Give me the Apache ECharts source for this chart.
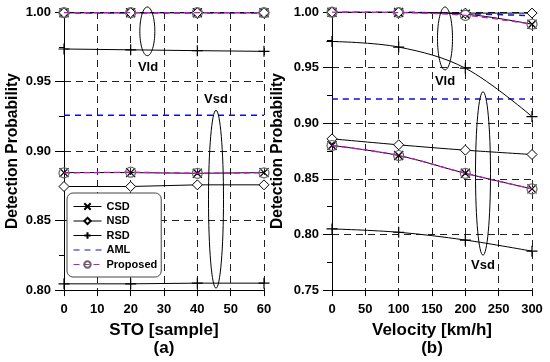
<!DOCTYPE html>
<html><head><meta charset="utf-8">
<script src="https://cdn.jsdelivr.net/npm/echarts@6/dist/echarts.min.js"></script>
<style>html,body{margin:0;padding:0;background:#fff}#c{width:550px;height:362px}</style>
</head><body><div id="c"></div>
<script>
// ---- data ----
var stoTicks = [0, 20, 40, 60];
var velTicks = [0, 100, 200, 300];
// (a) STO
var csdVldA  = [0.9995, 0.9995, 0.9995, 0.9995];
var csdVsdA  = [0.8845, 0.8845, 0.8840, 0.8845];
var nsdVldA  = [0.9995, 0.9995, 0.9995, 0.9995];
var nsdVsdA  = [0.8745, 0.8745, 0.8757, 0.8757];
var rsdVldA  = [0.9734, 0.9728, 0.9722, 0.9717];
var rsdVsdA  = [0.8045, 0.8045, 0.8050, 0.8050];
var amlVldA  = [0.9995, 0.9995, 0.9995, 0.9995];
var amlVsdA  = [0.9257, 0.9257, 0.9257, 0.9257];
var propVldA = [0.9995, 0.9995, 0.9995, 0.9995];
var propVsdA = [0.8843, 0.8848, 0.8840, 0.8843];
// (b) Velocity
var csdVldB  = [0.9998, 0.9995, 0.9980, 0.9890];
var csdVsdB  = [0.8800, 0.8710, 0.8550, 0.8410];
var nsdVldB  = [0.9998, 0.9998, 0.9990, 0.9990];
var nsdVsdB  = [0.8860, 0.8806, 0.8758, 0.8719];
var rsdVldB  = [0.9735, 0.9685, 0.9495, 0.9060];
var rsdVsdB  = [0.8050, 0.8020, 0.7950, 0.7850];
var amlVldB  = [0.9998, 0.9998, 0.9985, 0.9967];
var amlVsdB  = [0.9218, 0.9218, 0.9218, 0.9218];
var propVldB = [0.9998, 0.9995, 0.9970, 0.9890];
var propVsdB = [0.8800, 0.8710, 0.8550, 0.8410];
var legendNames = ['CSD', 'NSD', 'RSD', 'AML', 'Proposed'];
// annotation positions in data units
var annA = [{t:'Vld', x:25, y1:1.0036, y2:0.9686, lx:25.2, ly:0.960},
            {t:'Vsd', x:45.6, y1:0.9293, y2:0.8014, lx:45.6, ly:0.937}];
var annB = [{t:'Vld', x:169.5, y1:1.0045, y2:0.9480, lx:169.5, ly:0.938},
            {t:'Vsd', x:226.5, y1:0.9283, y2:0.7814, lx:226.5, ly:0.7724}];

function pairs(xs, ys){ return xs.map(function(x,i){ return [x, ys[i]]; }); }

var FONT = 'Arial, "Liberation Sans", sans-serif';
var XPATH = 'path://M0,0L10,10M10,0L0,10';
var PPATH = 'path://M5,0L5,10M0,5L10,5';

function styleFor(name){
  if (name === 'CSD') return {symbol: XPATH, symbolSize: 9, lineStyle:{color:'#000', width:1},
      itemStyle:{color:'rgba(0,0,0,0)', borderColor:'#000', borderWidth:1.3}};
  if (name === 'NSD') return {symbol: 'diamond', symbolSize: 10, lineStyle:{color:'#000', width:1},
      itemStyle:{color:'#fff', borderColor:'#000', borderWidth:1}};
  if (name === 'RSD') return {symbol: PPATH, symbolSize: 11, lineStyle:{color:'#000', width:1},
      itemStyle:{color:'rgba(0,0,0,0)', borderColor:'#000', borderWidth:1.2}};
  if (name === 'AML') return {symbol: 'none', lineStyle:{color:'#1010d0', width:1.5, type:[6,5]},
      itemStyle:{color:'#1010d0'}};
  return {symbol: 'circle', symbolSize: 10, lineStyle:{color:'#d010d0', width:1.3, type:[6,4]},
      itemStyle:{color:'rgba(0,0,0,0)', borderColor:'#666', borderWidth:1.2}};
}

var series = [];
function add(name, idx, xs, ys, smooth){
  var s = styleFor(name);
  var o = {name:name, type:'line', xAxisIndex:idx, yAxisIndex:idx, data:pairs(xs, ys),
    smooth: smooth ? 0.35 : false, showSymbol: s.symbol !== 'none', symbol: s.symbol,
    symbolSize: s.symbolSize || 8, lineStyle: s.lineStyle, itemStyle: s.itemStyle,
    emphasis:{disabled:true}, animation:false, z: name === 'Proposed' ? 5 : 3};
  series.push(o);
}
add('AML', 0, stoTicks, amlVldA); add('AML', 0, stoTicks, amlVsdA);
add('CSD', 0, stoTicks, csdVldA); add('CSD', 0, stoTicks, csdVsdA);
add('NSD', 0, stoTicks, nsdVldA); add('NSD', 0, stoTicks, nsdVsdA);
add('RSD', 0, stoTicks, rsdVldA); add('RSD', 0, stoTicks, rsdVsdA);
add('Proposed', 0, stoTicks, propVldA); add('Proposed', 0, stoTicks, propVsdA);
add('AML', 1, velTicks, amlVldB, true); add('AML', 1, velTicks, amlVsdB, true);
add('CSD', 1, velTicks, csdVldB, true); add('CSD', 1, velTicks, csdVsdB, true);
add('NSD', 1, velTicks, nsdVldB, true); add('NSD', 1, velTicks, nsdVsdB, true);
add('RSD', 1, velTicks, rsdVldB, true); add('RSD', 1, velTicks, rsdVsdB, true);
add('Proposed', 1, velTicks, propVldB, true); add('Proposed', 1, velTicks, propVsdB, true);

var dash = {show:true, lineStyle:{color:'#222', width:1, type:[7,5]}};
function xAx(idx, min, max, interval, name){
  return {type:'value', gridIndex:idx, min:min, max:max, interval:interval,
    name:name, nameLocation:'middle', nameGap:30,
    nameTextStyle:{fontFamily:FONT, fontWeight:'bold', fontSize:17, color:'#000', lineHeight:18},
    axisLine:{show:true, lineStyle:{color:'#000', width:1}},
    axisTick:{show:true, length:6, lineStyle:{color:'#000'}},
    axisLabel:{fontFamily:FONT, fontWeight:'bold', fontSize:13, color:'#000', margin:13},
    splitLine: dash};
}
function yAx(idx, min, max, gap){
  return {type:'value', gridIndex:idx, min:min, max:max, interval:0.05,
    name:'Detection Probability', nameLocation:'middle', nameGap:gap,
    nameTextStyle:{fontFamily:FONT, fontWeight:'bold', fontSize:15.6, color:'#000'},
    axisLine:{show:true, lineStyle:{color:'#000', width:1}},
    axisTick:{show:true, length:9, lineStyle:{color:'#000'}},
    minorTick:{show:true, splitNumber:2, length:5, lineStyle:{color:'#000'}},
    axisLabel:{fontFamily:FONT, fontWeight:'bold', fontSize:13, color:'#000', margin:13,
      formatter:function(v){ return v.toFixed(2); }},
    splitLine: dash};
}

var legendData = legendNames.map(function(n){
  var s = styleFor(n);
  var ls = {color: s.lineStyle.color, width: 1, type: s.lineStyle.type || 'solid'};
  return n === 'AML' ? {name:n, itemStyle:{opacity:0}, lineStyle:ls} : {name:n, lineStyle:ls};
});

var chart = echarts.init(document.getElementById('c'), null, {renderer:'canvas'});
chart.setOption({
  backgroundColor:'#fff',
  animation:false,
  grid:[{left:64, top:12, width:200, height:279},
        {left:332, top:12, width:200, height:279}],
  xAxis:[xAx(0, 0, 60, 10, 'STO [sample]\n(a)'), xAx(1, 0, 300, 50, 'Velocity [km/h]\n(b)')],
  yAxis:[yAx(0, 0.80, 1.00, 43), yAx(1, 0.75, 1.00, 46)],
  legend:{data:legendData, orient:'vertical', left:67, top:193,
    backgroundColor:'#fff', borderColor:'#444', borderWidth:1, borderRadius:6,
    padding:[7,4,6,6], itemGap:1.5, itemWidth:28, itemHeight:8,
    textStyle:{fontFamily:FONT, fontWeight:'bold', fontSize:11, color:'#000', lineHeight:13},
    selectedMode:false, z:10},
  series: series
});

function annot(list, idx){
  var els = [];
  list.forEach(function(a){
    var p1 = chart.convertToPixel({xAxisIndex:idx, yAxisIndex:idx}, [a.x, a.y1]);
    var p2 = chart.convertToPixel({xAxisIndex:idx, yAxisIndex:idx}, [a.x, a.y2]);
    var pl = chart.convertToPixel({xAxisIndex:idx, yAxisIndex:idx}, [a.lx, a.ly]);
    els.push({type:'ellipse', shape:{cx:p1[0], cy:(p1[1]+p2[1])/2, rx:7.5, ry:(p2[1]-p1[1])/2},
      style:{fill:null, stroke:'#000', lineWidth:1}, z:20, silent:true});
    els.push({type:'text', x:pl[0], y:pl[1], style:{text:a.t, fill:'#000',
      font:'bold 13px ' + FONT, align:'center', verticalAlign:'middle'}, z:20, silent:true});
  });
  return els;
}
chart.setOption({graphic: annot(annA, 0).concat(annot(annB, 1))});
</script>
</body></html>
